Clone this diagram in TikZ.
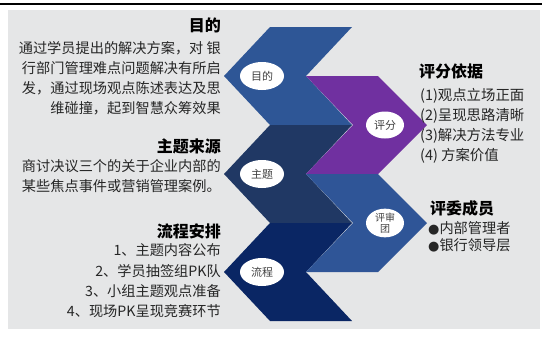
\documentclass[tikz,border=0pt]{standalone}
\usepackage{fontspec}
\setmainfont{Noto Sans CJK SC}
\newfontfamily\dejavu{DejaVu Sans}
\usetikzlibrary{shapes.geometric}
\definecolor{bgc}{RGB}{229,230,231}
\definecolor{cA}{RGB}{46,86,150}
\definecolor{cB}{RGB}{32,56,100}
\definecolor{cC}{RGB}{10,38,100}
\definecolor{cP}{RGB}{112,48,160}
\definecolor{cD}{RGB}{47,85,151}
\definecolor{txt}{RGB}{38,38,38}
\definecolor{otxt}{RGB}{64,64,64}
\begin{document}
\begin{tikzpicture}[x=1pt,y=-1pt,
  title/.style={font=\fontsize{16}{16}\selectfont\bfseries, text=black, inner sep=0},
  body/.style={font=\fontsize{14.2}{14}\selectfont, text=txt, inner sep=0},
  bodyr/.style={font=\fontsize{14.4}{15}\selectfont, text=txt, inner sep=0},
  oval/.style={ellipse, fill=white, minimum width=44pt, minimum height=28pt, inner sep=0,
    text=otxt, font=\fontsize{11}{11}\selectfont, align=center}]
\useasboundingbox (0,0) rectangle (542,338);
\fill[white] (0,0) rectangle (542,338);
\fill[bgc] (8,10) rectangle (540,329);
\draw[line width=2.5pt] (0,3.8) -- (542,3.8);
% left chevrons
\foreach \cy/\c in {76/cA,174/cB,272/cC}{
  \fill[\c] (270,\cy-49) -- (352,\cy-49) -- (306,\cy) -- (352,\cy+49) -- (270,\cy+49) -- (224,\cy) -- cycle;
}
% right chevrons
\foreach \cy/\c in {125/cP,223/cD}{
  \fill[\c] (306,\cy-49) -- (378,\cy-49) -- (427,\cy) -- (378,\cy+49) -- (306,\cy+49) -- (353,\cy) -- cycle;
}
% ovals
\node[oval] (e1) at (262,76) {目的};
\node[oval] (e2) at (262,174) {主题};
\node[oval] (e3) at (262,272) {流程};
\node[oval, minimum width=38pt, minimum height=27pt] (e4) at (385,125) {评分};
\node[oval, minimum width=38pt, minimum height=27pt, font=\fontsize{10}{11}\selectfont] (e5) at (385,223) {评审\\团};
% left texts
\node[title, anchor=base east] (t1) at (221,31) {目的};
\node[body, anchor=base east] (t1a) at (221,53.3) {通过学员提出的解决方案，对 银};
\node[body, anchor=base east] (t1b) at (221,73.3) {行部门管理难点问题解决有所启};
\node[body, anchor=base east] (t1c) at (221,93.3) {发，通过现场观点陈述表达及思};
\node[body, anchor=base east] (t1d) at (221,113.3) {维碰撞，起到智慧众筹效果};
\node[title, anchor=base east] (t2) at (221,152) {主题来源};
\node[body, anchor=base east] (t2a) at (221,171.3) {商讨决议三个的关于企业内部的};
\node[body, anchor=base east] (t2b) at (221,191.3) {某些焦点事件或营销管理案例。};
\node[title, anchor=base east] (t3) at (221,237) {流程安排};
\node[body, anchor=base east] (t3a) at (221,255.8) {1、主题内容公布};
\node[body, anchor=base east] (t3b) at (221,276.1) {2、学员抽签组PK队};
\node[body, anchor=base east] (t3c) at (221,296.4) {3、小组主题观点准备};
\node[body, anchor=base east] (t3d) at (221,316.7) {4、现场PK呈现竞赛环节};
% right texts
\node[title, anchor=base west] (r1) at (419,77.8) {评分依据};
\node[bodyr, anchor=base west] (r1a) at (420,100.7) {(1)观点立场正面};
\node[bodyr, anchor=base west] (r1b) at (420,120.7) {(2)呈现思路清晰};
\node[bodyr, anchor=base west] (r1c) at (420,140.7) {(3)解决方法专业};
\node[bodyr, anchor=base west] (r1d) at (420,160.7) {(4) 方案价值};
\node[title, anchor=base west] (r2) at (430,214) {评委成员};
\node[body, anchor=base west] (r2a) at (428,233.8) {{\dejavu\fontsize{13}{13}\selectfont●}内部管理者};
\node[body, anchor=base west] (r2b) at (428,250.3) {{\dejavu\fontsize{13}{13}\selectfont●}银行领导层};
\end{tikzpicture}
\end{document}
